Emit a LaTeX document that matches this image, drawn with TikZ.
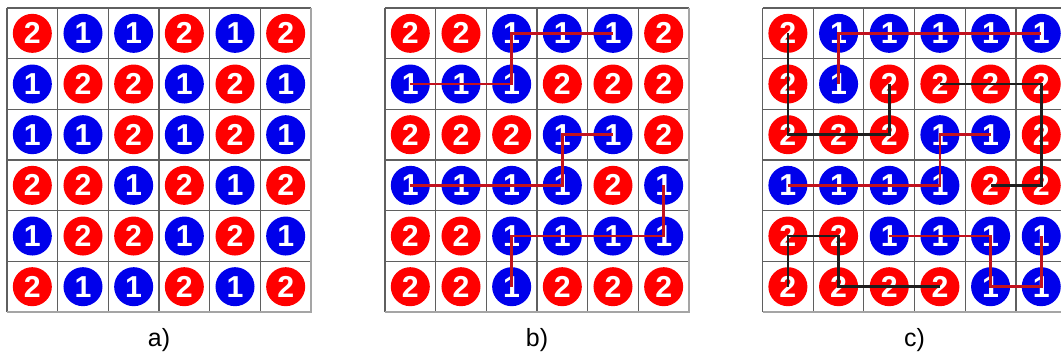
\documentclass[tikz,border=0pt]{standalone}
\usepackage{fontspec}
\setmainfont{Liberation Sans}
\definecolor{dot1}{RGB}{0,0,235}
\definecolor{dot2}{RGB}{255,0,0}
\definecolor{pathred}{RGB}{195,18,30}
\definecolor{pathblack}{RGB}{30,30,30}
\definecolor{gridgray}{RGB}{95,95,95}
\definecolor{edgegray}{RGB}{165,165,165}
\tikzset{
  dot/.style={circle, inner sep=0pt, minimum size=0.77cm, text=white,
    font=\fontsize{17}{18}\selectfont\bfseries},
  cell/.style={draw=gridgray, line width=0.65pt},
  edge/.style={draw=edgegray, line width=0.8pt},
  redpath/.style={pathred, line width=1.5pt},
  blackpath/.style={pathblack, line width=1.5pt},
  caption/.style={font=\fontsize{14}{16}\selectfont},
}
\begin{document}
\begin{tikzpicture}[x=1cm, y=-1cm]
\useasboundingbox (0,0) rectangle (20.94,6.986);
% grids
\foreach \gx in {0.138,7.598,15.05} {
  \draw[cell, shift={(\gx,0.158)}] (0,0) grid (6,6);
  \draw[edge, shift={(\gx,0.158)}] (0,6) -- (6,6) -- (6,0);
}
% a)
\foreach \row [count=\r] in {{2,1,1,2,1,2},{1,2,2,1,2,1},{1,1,2,1,2,1},{2,2,1,2,1,2},{1,2,2,1,2,1},{2,1,1,2,1,2}}
  \foreach \v [count=\c] in \row
    \node[dot, fill=dot\v] (a\r\c) at (0.138+\c-0.5, 0.158+\r-0.5) {\v};
% b)
\foreach \row [count=\r] in {{2,2,1,1,1,2},{1,1,1,2,2,2},{2,2,2,1,1,2},{1,1,1,1,2,1},{2,2,1,1,1,1},{2,2,1,2,2,2}}
  \foreach \v [count=\c] in \row
    \node[dot, fill=dot\v] (b\r\c) at (7.598+\c-0.5, 0.158+\r-0.5) {\v};
% c)
\foreach \row [count=\r] in {{2,1,1,1,1,1},{2,1,2,2,2,2},{2,2,2,1,1,2},{1,1,1,1,2,2},{2,2,1,1,1,1},{2,2,2,2,1,1}}
  \foreach \v [count=\c] in \row
    \node[dot, fill=dot\v] (c\r\c) at (15.05+\c-0.5, 0.158+\r-0.5) {\v};
% paths in b)
\draw[redpath] (b21.center) -- (b23.center) -- (b13.center) -- (b15.center);
\draw[redpath] (b41.center) -- (b44.center) -- (b34.center) -- (b35.center);
\draw[redpath] (b46.center) -- (b56.center) -- (b53.center) -- (b63.center);
% paths in c)
\draw[redpath] (c22.center) -- (c12.center) -- (c16.center);
\draw[blackpath] (c11.center) -- (c31.center) -- (c33.center) -- (c23.center);
\draw[blackpath] (c24.center) -- (c26.center) -- (c46.center) -- (c45.center);
\draw[redpath] (c41.center) -- (c44.center) -- (c34.center) -- (c35.center);
\draw[blackpath] (c61.center) -- (c51.center) -- (c52.center) -- (c62.center) -- (c64.center);
\draw[redpath] (c53.center) -- (c55.center) -- (c65.center) -- (c66.center) -- (c56.center);
% captions
\node[caption] (capa) at (3.138,6.71) {a)};
\node[caption] (capb) at (10.598,6.71) {b)};
\node[caption] (capc) at (18.05,6.71) {c)};
\end{tikzpicture}
\end{document}
